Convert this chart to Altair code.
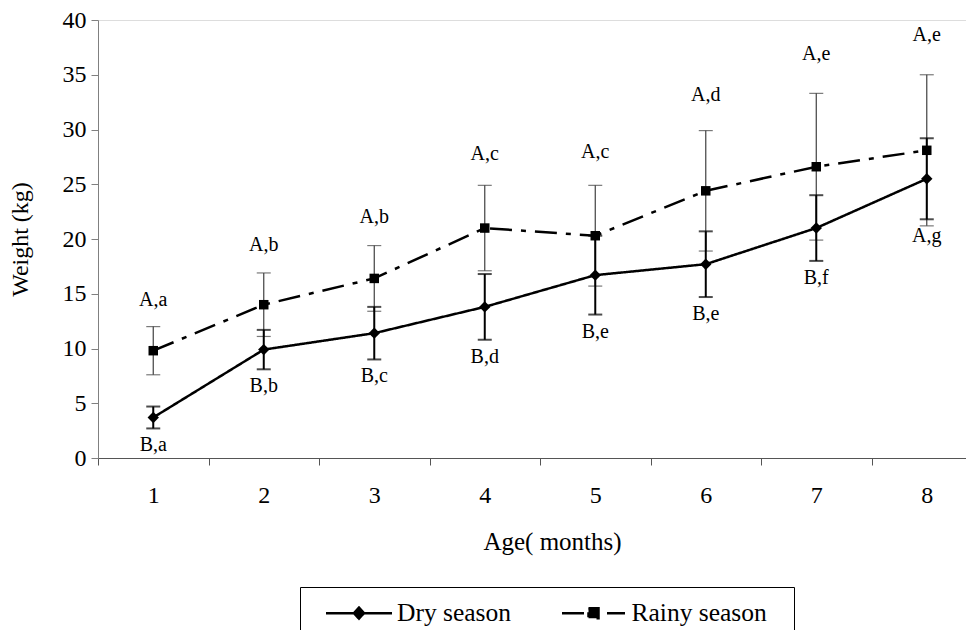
import altair as alt
import pandas as pd

FONT = "Liberation Serif"

ages = [1, 2, 3, 4, 5, 6, 7, 8]
seasons = ["Dry season", "Rainy season"]

dry_mean = [3.7, 9.9, 11.4, 13.8, 16.7, 17.7, 21.0, 25.5]
dry_err = [1.0, 1.8, 2.4, 3.0, 3.6, 3.0, 3.0, 3.7]
dry_labels = ["B,a", "B,b", "B,c", "B,d", "B,e", "B,e", "B,f", "A,g"]

rainy_mean = [9.8, 14.0, 16.4, 21.0, 20.3, 24.4, 26.6, 28.1]
rainy_err = [2.2, 2.9, 3.0, 3.9, 4.6, 5.5, 6.7, 6.9]
rainy_labels = ["A,a", "A,b", "A,b", "A,c", "A,c", "A,d", "A,e", "A,e"]

y_ticks = [0, 5, 10, 15, 20, 25, 30, 35, 40]
x_edge_ticks = [0.5, 1.5, 2.5, 3.5, 4.5, 5.5, 6.5, 7.5]

rows = []
for i, a in enumerate(ages):
    rows.append({"age": a, "season": seasons[0], "mean": dry_mean[i],
                 "err": dry_err[i], "label": dry_labels[i]})
    rows.append({"age": a, "season": seasons[1], "mean": rainy_mean[i],
                 "err": rainy_err[i], "label": rainy_labels[i]})
df = pd.DataFrame(rows)

base = alt.Chart(df).transform_calculate(
    low="datum.mean - datum.err",
    high="datum.mean + datum.err",
    label_top="datum.mean + datum.err + 1.8 + 0.27 * datum.err",
)

x_enc = alt.X(
    "age:Q",
    scale=alt.Scale(domain=[0.5, 8.355], nice=False, zero=False),
    axis=alt.Axis(
        values=x_edge_ticks,
        labelExpr="format(datum.value + 0.5, 'd')",
        labelOffset=55.25,
        labelFlush=False,
        labelOverlap=False,
        tickSize=7,
        labelPadding=18,
        title="Age( months)",
        titlePadding=22,
        titleX=454,
        titleAlign="center",
        grid=False,
        domainColor="#555555",
        tickColor="#555555",
        labelFont=FONT, labelFontSize=24, labelColor="black",
        titleFont=FONT, titleFontSize=25, titleFontWeight="normal", titleColor="black",
    ),
)

y_axis = alt.Axis(
    values=y_ticks,
    tickSize=7,
    labelPadding=5,
    grid=False,
    domainColor="#808080",
    tickColor="#808080",
    labelFont=FONT, labelFontSize=24, labelColor="black",
    titleFont=FONT, titleFontSize=24, titleFontWeight="normal", titleColor="black",
    titlePadding=30,
)
y_scale = alt.Scale(domain=[0, 40], nice=False, zero=True)


def y_enc(field):
    return alt.Y(field, scale=y_scale, axis=y_axis, title="Weight (kg)")


dry_path = "M-9.2,0M-6.6,0L6.6,0M0,-1.1L1,0L0,1.1L-1,0Z"
rainy_path = "M-9.2,0M-6.3,0L6.3,0M-1,-1L1,-1L1,1L-1,1ZM36.5,0"
shape_expr = "datum.value === 'Dry season' ? '%s' : '%s'" % (dry_path, rainy_path)
dash_expr = "datum.value === 'Dry season' ? [1, 0] : [22, 4.5, 10, 14, 6, 40]"

legend = alt.Legend(
    title=None,
    orient="none",
    legendX=202,
    legendY=567,
    direction="horizontal",
    symbolType=alt.ExprRef(expr=shape_expr),
    symbolDash=alt.ExprRef(expr=dash_expr),
    symbolSize=100,
    symbolStrokeWidth=2.5,
    symbolStrokeColor="black",
    symbolFillColor="black",
    symbolOpacity=1,
    labelFont=FONT,
    labelFontSize=25.5,
    labelColor="black",
    labelLimit=400,
    symbolOffset=33.25,
    labelOffset=25.25,
    columnPadding=30.5,
    padding=13,
    strokeColor="black",
)

line = base.mark_line(color="black", strokeWidth=2.5).encode(
    x=x_enc,
    y=y_enc("mean:Q"),
    strokeDash=alt.StrokeDash(
        "season:N",
        scale=alt.Scale(domain=seasons, range=[[1, 0], [22, 9, 5, 9]]),
        legend=legend,
    ),
)

dry = base.transform_filter(alt.datum.season == seasons[0])
rainy = base.transform_filter(alt.datum.season == seasons[1])

pts_dry = dry.mark_point(shape="diamond", size=130, filled=True, color="black", opacity=1).encode(
    x=x_enc, y=y_enc("mean:Q"))
pts_rainy = rainy.mark_point(shape="square", size=90, filled=True, color="black", opacity=1).encode(
    x=x_enc, y=y_enc("mean:Q"))

eb_dry = dry.mark_errorbar(ticks=True, size=14, thickness=2, color="black").encode(
    x=x_enc, y=y_enc("low:Q"), y2="high:Q")
eb_rainy = rainy.mark_errorbar(ticks=True, size=14, thickness=1.2, color="#404040").encode(
    x=x_enc, y=y_enc("low:Q"), y2="high:Q")

txt_dry = dry.mark_text(font=FONT, fontSize=20, dy=17, baseline="middle", color="black").encode(
    x=x_enc, y=y_enc("low:Q"), text="label:N")
txt_rainy = rainy.mark_text(font=FONT, fontSize=20, baseline="middle", color="black").encode(
    x=x_enc, y=y_enc("label_top:Q"), text="label:N")

chart = alt.layer(
    eb_rainy, eb_dry, line, pts_dry, pts_rainy, txt_dry, txt_rainy
).properties(
    width=868,
    height=438,
    padding={"left": 90, "top": 12, "right": 0, "bottom": 172},
    autosize=alt.AutoSizeParams(type="none"),
    background="white",
).configure_view(stroke=None).configure(font=FONT)

chart.save("out.html", embed_options={"renderer": "svg", "actions": False})
